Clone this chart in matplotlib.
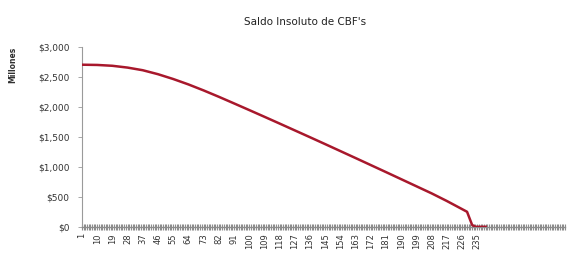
import matplotlib.pyplot as plt
import matplotlib.ticker as mticker

# periodos y saldo insoluto (millones)
periodos = [1, 10, 19, 28, 37, 46, 55, 64, 73, 82, 91, 100, 109, 118, 127,
            136, 145, 154, 163, 172, 181, 190, 199, 208, 217, 226, 229, 232, 234, 240]
saldo = [2700, 2696, 2682, 2652, 2608, 2542, 2462, 2372, 2272, 2166, 2056, 1945,
         1833, 1720, 1606, 1492, 1377, 1261, 1145, 1028, 911, 793, 675, 557,
         430, 295, 250, 30, 0, 0]

n_categorias = 287
etiquetas = list(range(1, 241, 9))
y_ticks = [0, 500, 1000, 1500, 2000, 2500, 3000]

fig = plt.figure(figsize=(5.69, 2.58), dpi=100)
ax = fig.add_axes([0.144, 0.121, 0.849, 0.698])

ax.plot(periodos, saldo, color='#A8182C', lw=1.8, solid_joinstyle='round', zorder=3)

ax.set_xlim(1, n_categorias)
ax.set_ylim(0, 3000)

# ticks de categoria en cada periodo (banda gris)
ax.set_xticks(range(1, n_categorias + 1), minor=True)
ax.tick_params(axis='x', which='minor', direction='inout', length=5, width=0.8, color='#8c8c8c')
ax.set_xticks(etiquetas)
ax.set_xticklabels([str(e) for e in etiquetas], rotation=90, fontsize=6, color='#333333')
ax.tick_params(axis='x', which='major', direction='inout', length=5, width=0.8, color='#8c8c8c', pad=2)

ax.set_yticks(y_ticks)
ax.yaxis.set_major_formatter(mticker.FuncFormatter(lambda v, p: '${:,.0f}'.format(v)))
ax.tick_params(axis='y', direction='out', length=3, width=0.6, color='#9a9a9a',
               labelsize=6.5, labelcolor='#333333', pad=6)

for s in ['top', 'right']:
    ax.spines[s].set_visible(False)
ax.spines['left'].set_color('#9a9a9a')
ax.spines['bottom'].set_color('#8c8c8c')
ax.spines['left'].set_linewidth(0.8)
ax.spines['bottom'].set_linewidth(1.0)

fig.text(0.536, 0.915, "Saldo Insoluto de CBF's", ha='center', va='center',
         fontsize=7.5, color='#222222')
fig.text(0.022, 0.75, 'Millones', rotation=90, ha='center', va='center',
         fontsize=5.5, fontweight='bold', color='#303030')

plt.savefig('out.png', dpi=100)
